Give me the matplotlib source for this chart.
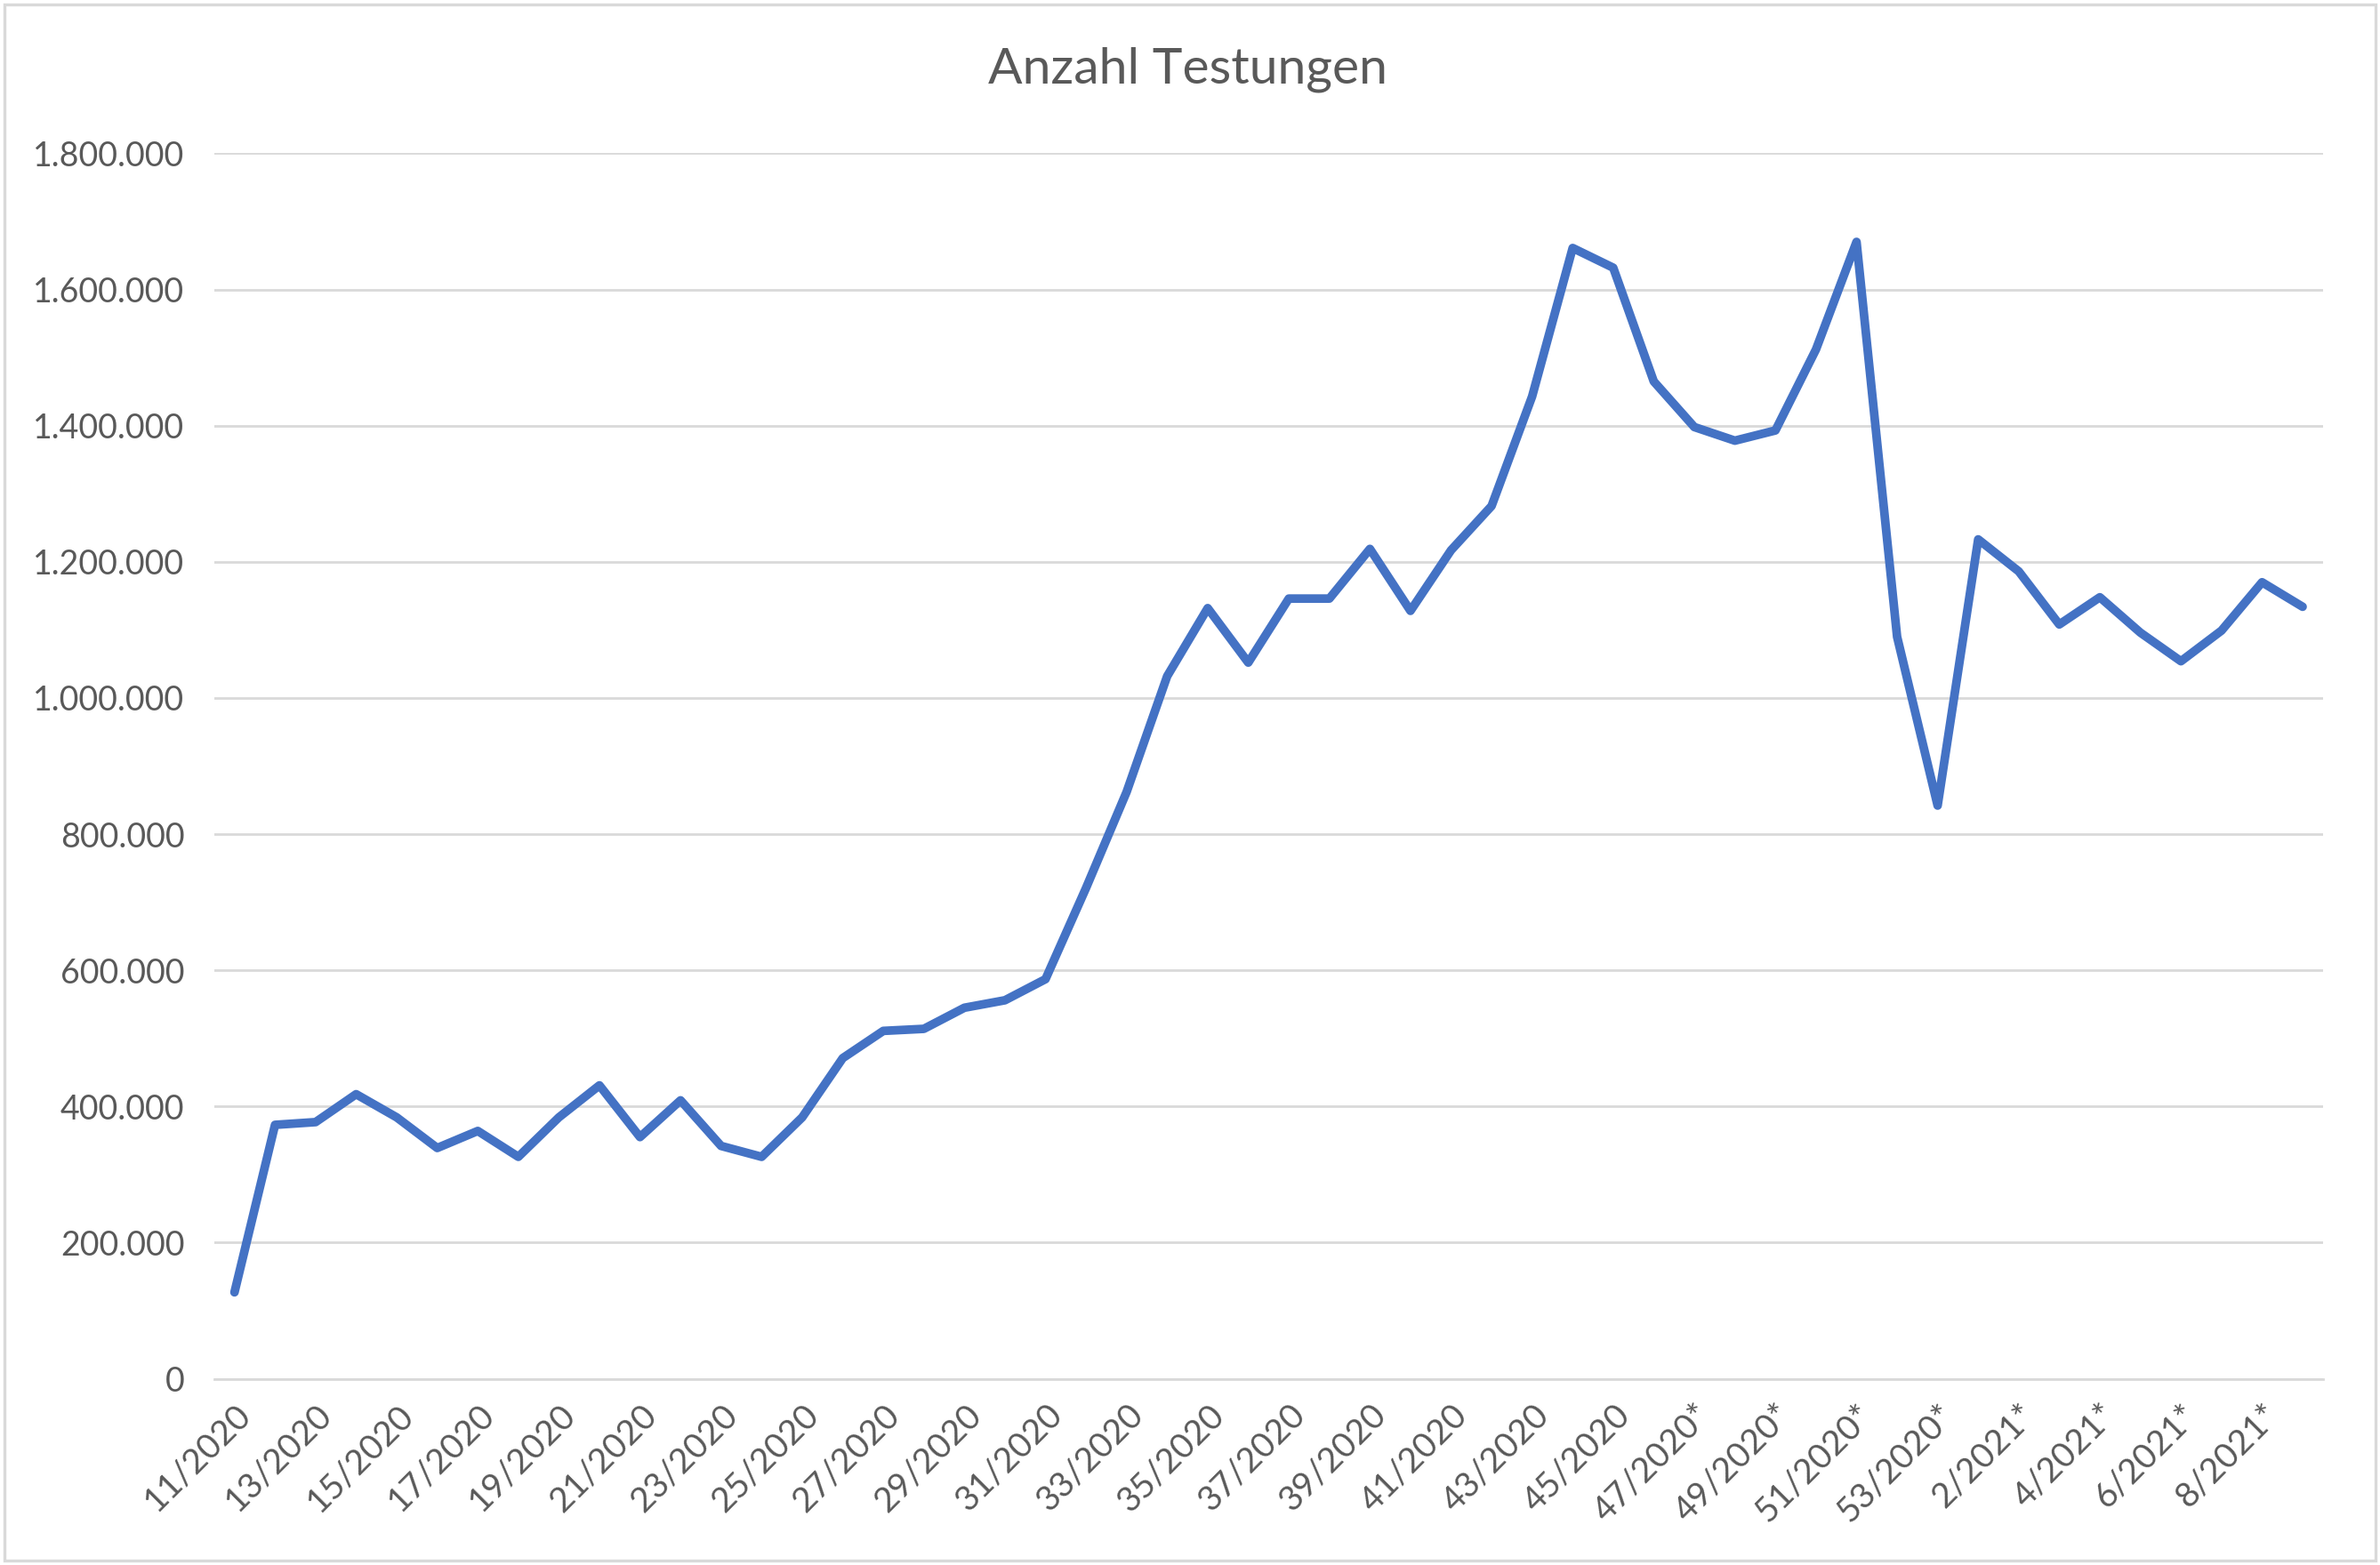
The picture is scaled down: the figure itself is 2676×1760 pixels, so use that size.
import numpy as np
import matplotlib.pyplot as plt
from matplotlib.patches import Rectangle
from matplotlib.ticker import FuncFormatter

plt.rcParams['font.family'] = ['Lato', 'DejaVu Sans']

# ----- Data -----
weeks_2020 = list(range(11, 54))
weeks_2021 = list(range(1, 10))
star_from_2020 = 47  # values marked with * (preliminary)

labels = [f"{w}/2020" + ("*" if w >= star_from_2020 else "") for w in weeks_2020]
labels += [f"{w}/2021*" for w in weeks_2021]

tests = [
    127000, 373000, 377000, 418000, 384000, 339000, 364000, 326000, 384000, 431000,
    355000, 409000, 342000, 326000, 384000, 471000, 511000, 514000, 545000, 556000,
    587000, 721000, 862000, 1032000, 1132000, 1052000, 1146000, 1146000, 1219000, 1128000,
    1217000, 1282000, 1443000, 1661000, 1632000, 1465000, 1398000, 1378000, 1393000, 1512000,
    1670000, 1090000, 842000, 1233000, 1186000, 1108000, 1148000, 1096000, 1054000, 1099000,
    1170000, 1134000,
]

TEXT = "#595959"
GRID = "#D9D9D9"
LINE = "#4472C4"

fig = plt.figure(figsize=(13.38, 8.8), dpi=200)
ax = fig.add_axes([0.090, 0.119, 0.886, 0.783])

x = np.arange(len(tests))
ax.plot(x, tests, color=LINE, lw=3.5, solid_joinstyle="round", solid_capstyle="round", zorder=3)

ax.set_xlim(-0.5, len(tests) - 0.5)
ax.set_ylim(0, 1800000)
ax.set_yticks(np.arange(0, 1800001, 200000))
ax.yaxis.set_major_formatter(FuncFormatter(lambda v, p: f"{int(v):,}".replace(",", ".")))
ax.grid(axis="y", color=GRID, lw=1.0)
ax.set_axisbelow(True)

ax.set_xticks(x[::2])
ax.set_xticklabels(labels[::2], rotation=45, ha="right", va="top", rotation_mode="anchor")

for s in ["top", "right", "left"]:
    ax.spines[s].set_visible(False)
ax.spines["bottom"].set_color(GRID)
ax.spines["bottom"].set_linewidth(1.0)
ax.tick_params(length=0, colors=TEXT)
ax.tick_params(axis="y", pad=12, labelsize=13.5)
ax.tick_params(axis="x", pad=8, labelsize=14)

fig.suptitle("Anzahl Testungen", x=0.499, y=0.97, fontsize=20.5, color=TEXT)

fig.patches.append(Rectangle((0.002, 0.003), 0.996, 0.994, transform=fig.transFigure,
                             fill=False, edgecolor=GRID, lw=1.2))

fig.savefig("out.png", dpi=200, facecolor="white")
